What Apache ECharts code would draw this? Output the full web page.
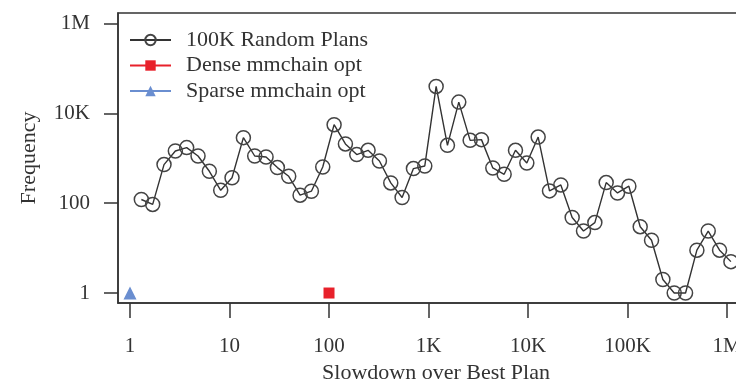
<!DOCTYPE html>
<html>
<head>
<meta charset="utf-8">
<script src="https://cdn.jsdelivr.net/npm/echarts@6/dist/echarts.min.js"></script>
<style>
  html, body { margin: 0; padding: 0; background: #fff; }
  #chart { width: 736px; height: 381px; }
</style>
</head>
<body>
<div id="chart"></div>
<script>
// slowdown bins and plan counts
const slowdown = [1.3, 1.69, 2.197, 2.856, 3.713, 4.827, 6.275, 8.157, 10.60, 13.79,
  17.92, 23.30, 30.29, 39.37, 51.19, 66.54, 86.50, 112.5, 146.2, 190.0,
  247.1, 321.2, 417.5, 542.8, 705.6, 917.3, 1193, 1550, 2015, 2620,
  3406, 4428, 5756, 7483, 9728, 12646, 16440, 21372, 27784, 36119,
  46955, 61041, 79353, 103159, 134107, 174339, 226641, 294633, 383022, 497929,
  647308, 841500, 1093950];
const frequency = [121, 94, 724, 1453, 1729, 1125, 514, 194, 369, 2884,
  1125, 1069, 621, 398, 151, 185, 641, 5610, 2089, 1208,
  1506, 871, 283, 134, 590, 675, 39811, 1945, 17830, 2512,
  2605, 609, 441, 1506, 787, 2972, 188, 255, 48, 24,
  37, 288, 169, 239, 30, 15, 2, 1, 1, 9,
  24, 9, 5];
const densePoint = [[100, 1]];
const sparsePoint = [[1, 1]];

const xTickValues = [1, 10, 100, 1000, 10000, 100000, 1000000];
const xTickLabels = ['1', '10', '100', '1K', '10K', '100K', '1M'];
const yTickValues = [1, 100, 10000, 1000000];
const yTickLabels = ['1', '100', '10K', '1M'];

const font = 'Liberation Serif';
const ink = '#333';

const myChart = echarts.init(document.getElementById('chart'));

const option = {
  animation: false,
  grid: {
    left: 118, top: 13, right: -18, bottom: 78,
    containLabel: false, outerBoundsMode: 'none',
    show: true, borderColor: ink, borderWidth: 1.5
  },
  legend: {
    orient: 'vertical',
    left: 124, top: 24,
    itemWidth: 41, itemHeight: 13, itemGap: 3.5,
    textStyle: { fontFamily: font, fontSize: 22, color: ink, lineHeight: 22, padding: [0, 0, 0, 10] },
    data: ['100K Random Plans', 'Dense mmchain opt', 'Sparse mmchain opt']
  },
  xAxis: {
    type: 'log', logBase: 10,
    min: 0.7575, max: 1867000,
    name: 'Slowdown over Best Plan', nameLocation: 'middle', nameGap: 59,
    nameTextStyle: { fontFamily: font, fontSize: 22, color: ink },
    axisLine: { lineStyle: { color: ink, width: 1.5 } },
    axisTick: { show: true, length: 15, lineStyle: { color: ink, width: 1.5 }, customValues: xTickValues },
    axisLabel: {
      fontFamily: font, fontSize: 21, color: ink, margin: 33,
      customValues: xTickValues,
      formatter: v => xTickLabels[xTickValues.indexOf(v)]
    },
    splitLine: { show: false }
  },
  yAxis: {
    type: 'log', logBase: 10,
    min: 0.5995, max: 1720000,
    name: 'Frequency', nameLocation: 'middle', nameGap: 78, nameRotate: 90,
    nameTextStyle: { fontFamily: font, fontSize: 22, color: ink },
    axisLine: { lineStyle: { color: ink, width: 1.5 } },
    axisTick: { show: true, length: 14, lineStyle: { color: ink, width: 1.5 }, customValues: yTickValues },
    axisLabel: {
      fontFamily: font, fontSize: 21, color: ink, margin: 28,
      customValues: yTickValues,
      formatter: v => yTickLabels[yTickValues.indexOf(v)]
    },
    splitLine: { show: false }
  },
  series: [
    {
      name: '100K Random Plans',
      type: 'line',
      data: slowdown.map((x, i) => [x, frequency[i]]),
      symbol: 'circle', symbolSize: 14,
      itemStyle: { color: 'transparent', borderColor: '#444', borderWidth: 1.5 },
      lineStyle: { color: '#333', width: 1.4 }
    },
    {
      name: 'Dense mmchain opt',
      type: 'line',
      data: densePoint,
      symbol: 'rect', symbolSize: 11,
      itemStyle: { color: '#e8212b' },
      lineStyle: { color: '#e8212b', width: 1.5 },
      z: 5
    },
    {
      name: 'Sparse mmchain opt',
      type: 'line',
      data: sparsePoint,
      symbol: 'triangle', symbolSize: 13,
      itemStyle: { color: '#6a8ed0' },
      lineStyle: { color: '#6a8ed0', width: 1.5 },
      z: 5
    }
  ]
};

option && myChart.setOption(option);
</script>
</body>
</html>
